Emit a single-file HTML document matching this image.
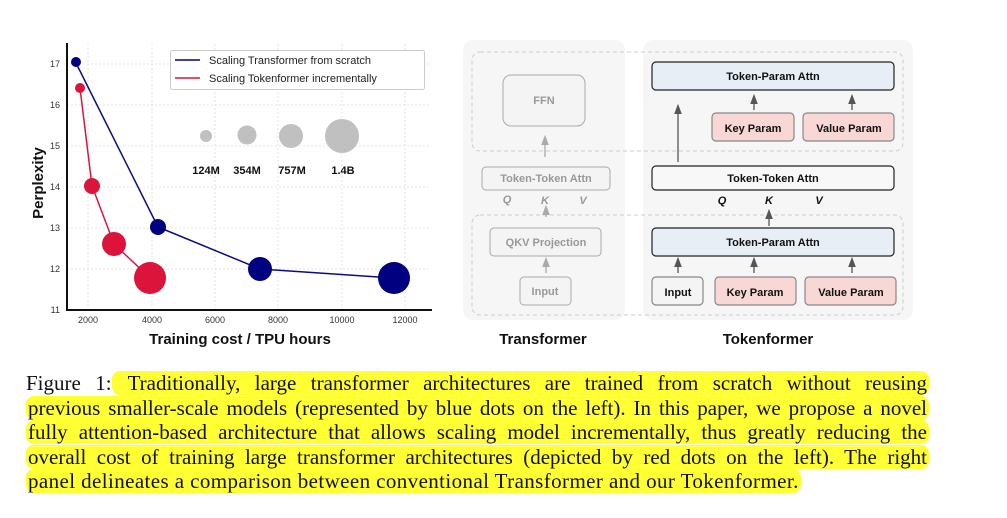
<!DOCTYPE html>
<html><head><meta charset="utf-8"><style>
body{margin:0;background:#fff;width:1007px;height:518px;overflow:hidden;position:relative}
svg{position:absolute;left:0;top:0}
.cap{position:absolute;left:26px;width:903px;font-family:"Liberation Serif",serif;font-size:21px;line-height:24px;height:24px;white-space:nowrap;text-align:justify;text-align-last:justify;color:#111}
.hl{background:#ffff33;border-radius:8px;padding:0 2px}
</style></head><body>
<svg width="1007" height="360" viewBox="0 0 1007 360" font-family="Liberation Sans, sans-serif">
<defs><marker id="a" markerWidth="8" markerHeight="8" refX="4" refY="4" orient="auto"><path d="M0,1 L8,4 L0,7z" fill="#555"/></marker>
<marker id="g" markerWidth="8" markerHeight="8" refX="4" refY="4" orient="auto"><path d="M0,1 L8,4 L0,7z" fill="#aaa"/></marker></defs>
<g stroke="#ddd" stroke-dasharray="2,2" stroke-width="0.8">
<line x1="67" y1="64" x2="431" y2="64"/><line x1="67" y1="105" x2="431" y2="105"/><line x1="67" y1="146" x2="431" y2="146"/><line x1="67" y1="187" x2="431" y2="187"/><line x1="67" y1="228" x2="431" y2="228"/><line x1="67" y1="269" x2="431" y2="269"/>
<line x1="88" y1="44" x2="88" y2="309"/><line x1="152" y1="44" x2="152" y2="309"/><line x1="215" y1="44" x2="215" y2="309"/><line x1="278" y1="44" x2="278" y2="309"/><line x1="342" y1="44" x2="342" y2="309"/><line x1="405" y1="44" x2="405" y2="309"/>
</g>
<path d="M67,43 V310 H432" fill="none" stroke="#111" stroke-width="2"/>
<g font-size="9" fill="#333" text-anchor="end"><text x="60" y="67">17</text><text x="60" y="108">16</text><text x="60" y="149">15</text><text x="60" y="190">14</text><text x="60" y="231">13</text><text x="60" y="272">12</text><text x="60" y="313">11</text></g>
<g font-size="9" fill="#333" text-anchor="middle"><text x="88" y="323">2000</text><text x="152" y="323">4000</text><text x="215" y="323">6000</text><text x="278" y="323">8000</text><text x="342" y="323">10000</text><text x="405" y="323">12000</text></g>
<text x="240" y="344" font-size="15" font-weight="bold" text-anchor="middle" fill="#111">Training cost / TPU hours</text>
<text transform="translate(43,183) rotate(-90)" font-size="15" font-weight="bold" text-anchor="middle" fill="#111">Perplexity</text>
<polyline points="76,63 158,227 260,269 394,278" fill="none" stroke="#0c0c80" stroke-width="1.5"/>
<polyline points="80,88 92,186 114,244 150,278" fill="none" stroke="#dc143c" stroke-width="1.5"/>
<g fill="#000080"><circle cx="76" cy="62" r="5"/><circle cx="158" cy="227" r="8"/><circle cx="260" cy="269" r="12"/><circle cx="394" cy="278" r="16"/></g>
<g fill="#dc143c"><circle cx="80" cy="88" r="5"/><circle cx="92" cy="186" r="8"/><circle cx="114" cy="244" r="12"/><circle cx="150" cy="278" r="16"/></g>
<g fill="#c0c0c0"><circle cx="206" cy="136" r="6"/><circle cx="247" cy="135" r="9.5"/><circle cx="291" cy="136" r="12"/><circle cx="342" cy="136" r="17"/></g>
<g font-size="11" font-weight="bold" text-anchor="middle" fill="#111"><text x="206" y="174">124M</text><text x="247" y="174">354M</text><text x="292" y="174">757M</text><text x="343" y="174">1.4B</text></g>
<rect x="170.5" y="50.5" width="254" height="39" fill="#fff" stroke="#ccc" rx="2"/>
<line x1="175" y1="60" x2="200" y2="60" stroke="#000080" stroke-width="1.5"/><line x1="175" y1="78" x2="200" y2="78" stroke="#dc143c" stroke-width="1.5"/>
<g font-size="11" fill="#222"><text x="209" y="64">Scaling Transformer from scratch</text><text x="209" y="82">Scaling Tokenformer incrementally</text></g>

<rect x="463" y="40" width="162" height="280" rx="10" fill="#f6f6f6"/>
<rect x="643" y="40" width="270" height="280" rx="10" fill="#f6f6f6"/>
<rect x="472" y="52" width="431" height="99" rx="8" fill="none" stroke="#ccc" stroke-dasharray="4,3"/>
<rect x="472" y="215" width="431" height="100" rx="8" fill="none" stroke="#ccc" stroke-dasharray="4,3"/>
<g fill="#f4f4f4" stroke="#aaa"><rect x="503" y="75" width="82" height="51" rx="8"/><rect x="482" y="167" width="128" height="23" rx="4"/><rect x="490" y="228" width="111" height="28" rx="4"/><rect x="520" y="277" width="51" height="28" rx="4"/></g>
<g font-size="11" font-weight="bold" fill="#999" text-anchor="middle"><text x="544" y="104">FFN</text><text x="546" y="182">Token-Token Attn</text><text x="546" y="246">QKV Projection</text><text x="545" y="295">Input</text></g>
<g font-size="11" font-weight="bold" font-style="italic" fill="#999" text-anchor="middle"><text x="507" y="203">Q</text><text x="545" y="204">K</text><text x="583" y="204">V</text></g>
<g stroke="#aaa" stroke-width="1.3" marker-end="url(#g)"><line x1="545" y1="157" x2="545" y2="140"/><line x1="546" y1="217" x2="546" y2="210"/><line x1="546" y1="273" x2="546" y2="262"/></g>
<g stroke="#222" stroke-width="1.2"><rect x="652" y="62" width="242" height="28" rx="4" fill="#e8eef6"/><rect x="712" y="113" width="82" height="28" rx="4" fill="#f8d7d5" stroke="#888"/><rect x="803" y="113" width="91" height="28" rx="4" fill="#f8d7d5" stroke="#888"/>
<rect x="652" y="166" width="242" height="24" rx="4" fill="#f8f8f8"/><rect x="652" y="228" width="242" height="28" rx="4" fill="#e8eef6"/>
<rect x="652" y="277" width="51" height="28" rx="4" fill="#f4f4f4" stroke="#888"/><rect x="715" y="277" width="81" height="28" rx="4" fill="#f8d7d5" stroke="#888"/><rect x="805" y="277" width="91" height="28" rx="4" fill="#f8d7d5" stroke="#888"/></g>
<g font-size="11" font-weight="bold" fill="#111" text-anchor="middle"><text x="773" y="80">Token-Param Attn</text><text x="753" y="132">Key Param</text><text x="849" y="132">Value Param</text><text x="773" y="182">Token-Token Attn</text><text x="773" y="246">Token-Param Attn</text><text x="678" y="296">Input</text><text x="755" y="296">Key Param</text><text x="851" y="296">Value Param</text></g>
<g font-size="11" font-weight="bold" font-style="italic" fill="#111" text-anchor="middle"><text x="722" y="204">Q</text><text x="769" y="204">K</text><text x="819" y="204">V</text></g>
<g stroke="#555" stroke-width="1.3" marker-end="url(#a)"><line x1="754" y1="110" x2="754" y2="99"/><line x1="852" y1="110" x2="852" y2="99"/><line x1="678" y1="162" x2="678" y2="109"/><line x1="769" y1="226" x2="769" y2="214"/><line x1="678" y1="273" x2="678" y2="262"/><line x1="754" y1="273" x2="754" y2="262"/><line x1="852" y1="273" x2="852" y2="262"/></g>
<g font-size="15" font-weight="bold" fill="#111" text-anchor="middle"><text x="543" y="344">Transformer</text><text x="768" y="344">Tokenformer</text></g>
</svg>
<div class="cap" style="top:371px">Figure 1:<span class="hl"> Traditionally, large transformer architectures are trained from scratch without reusing</span></div>
<div class="cap" style="top:396px"><span class="hl">previous smaller-scale models (represented by blue dots on the left). In this paper, we propose a novel</span></div>
<div class="cap" style="top:420px"><span class="hl">fully attention-based architecture that allows scaling model incrementally, thus greatly reducing the</span></div>
<div class="cap" style="top:445px"><span class="hl">overall cost of training large transformer architectures (depicted by red dots on the left). The right</span></div>
<div class="cap" style="top:469px;text-align-last:left;letter-spacing:0.4px"><span class="hl">panel delineates a comparison between conventional Transformer and our Tokenformer.</span></div>
</body></html>
